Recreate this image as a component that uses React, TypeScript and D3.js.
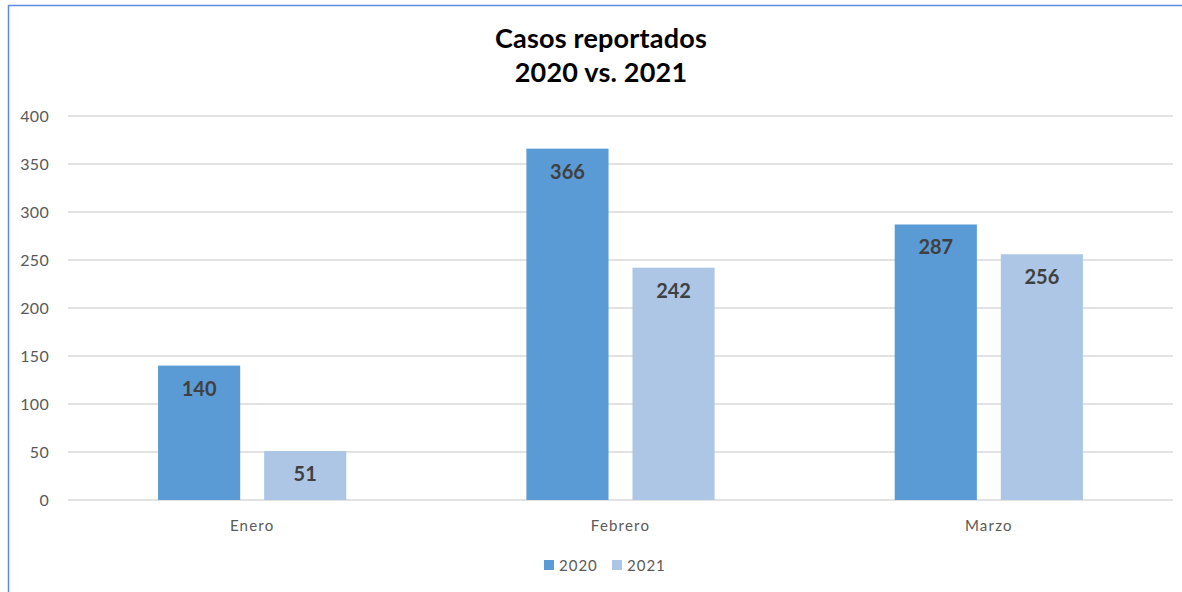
import React from "react";
import * as d3 from "d3";

const categories = ["Enero", "Febrero", "Marzo"];
const seriesNames = ["2020", "2021"];
const values2020 = [140, 366, 287];
const values2021 = [51, 242, 256];
const yTicks = [0, 50, 100, 150, 200, 250, 300, 350, 400];
const colors = ["#5B9BD5", "#ADC6E6"];

const W = 1182;
const H = 592;
const font = "Lato, 'Open Sans', sans-serif";

export default function App() {
  const left = 68, right = 1173, top = 116, bottom = 500;
  const x = d3.scaleBand<string>().domain(categories).range([left, right]).paddingInner(0).paddingOuter(0);
  const y = d3.scaleLinear().domain([0, 400]).range([bottom, top]);
  const bw = x.bandwidth();
  const barW = bw * 0.223;
  const gap = bw * 0.065;
  const series = [values2020, values2021];

  return (
    <div style={{ position: "absolute", left: 0, top: 0 }}>
      <svg width={W} height={H} style={{ display: "block", background: "#fff" }}>
        <line x1={8.5} y1={5} x2={8.5} y2={H} stroke="#5B8BE0" strokeWidth={1.5} />
        <line x1={8} y1={5.5} x2={W} y2={5.5} stroke="#5B8BE0" strokeWidth={1.5} />
        <text x={601} y={48} textAnchor="middle" fontFamily={font} fontWeight="bold" fontSize={27} letterSpacing={0.2} fill="#000">Casos reportados</text>
        <text x={601} y={82} textAnchor="middle" fontFamily={font} fontWeight="bold" fontSize={27} letterSpacing={0.2} fill="#000">2020 vs. 2021</text>
        {yTicks.map((t) => (
          <g key={t}>
            <line x1={left} x2={right} y1={y(t)} y2={y(t)} stroke="#D9D9D9" strokeWidth={1.5} />
            <text x={49} y={y(t) + 5.5} textAnchor="end" fontFamily={font} fontSize={16} letterSpacing={0.3} fill="#595959">{t}</text>
          </g>
        ))}
        {categories.map((c, i) => {
          const cx = (x(c) as number) + bw / 2;
          return (
            <g key={c}>
              {series.map((vals, s) => {
                const bx = s === 0 ? cx - gap / 2 - barW : cx + gap / 2;
                const v = vals[i];
                return (
                  <g key={s}>
                    <rect x={bx} y={y(v)} width={barW} height={bottom - y(v)} fill={colors[s]} />
                    <text x={bx + barW / 2} y={y(v) + 30} textAnchor="middle" fontFamily={font} fontWeight="bold" fontSize={20} fill="#404040">{v}</text>
                  </g>
                );
              })}
              <text x={cx} y={531} textAnchor="middle" fontFamily={font} fontSize={15} fill="#595959" letterSpacing={1.2}>{c}</text>
            </g>
          );
        })}
        {seriesNames.map((n, s) => {
          const lx = s === 0 ? 544 : 612;
          return (
            <g key={n}>
              <rect x={lx} y={560} width={10} height={10} fill={colors[s]} />
              <text x={lx + 15} y={571} fontFamily={font} fontSize={15} fill="#595959" letterSpacing={1}>{n}</text>
            </g>
          );
        })}
      </svg>
    </div>
  );
}
